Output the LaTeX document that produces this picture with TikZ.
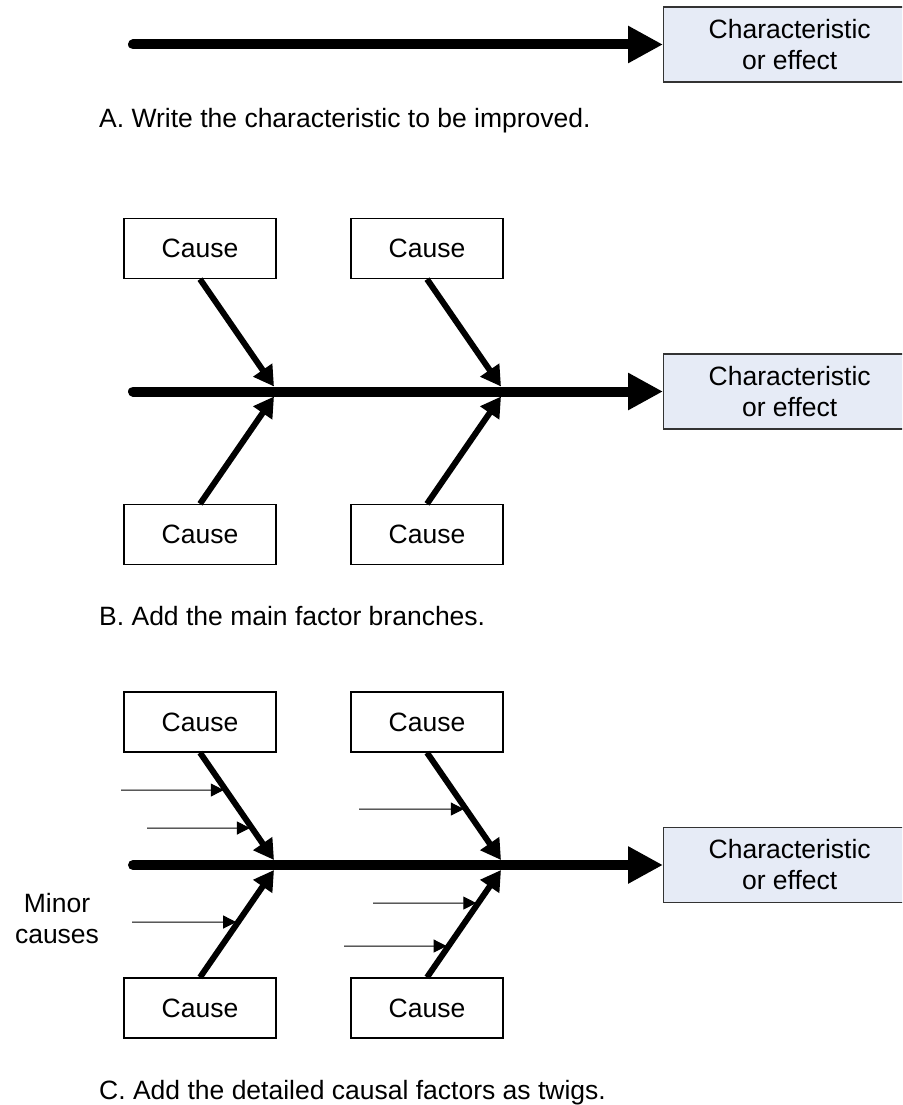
\documentclass[tikz,border=0pt]{standalone}
\usepackage{fontspec}
\setmainfont{Liberation Sans}
\usetikzlibrary{arrows.meta}
\definecolor{effectfill}{RGB}{230,235,246}
\begin{document}
\begin{tikzpicture}[x=1pt,y=-1pt,
  every node/.style={font=\fontsize{26.5}{31}\selectfont},
  causebox/.style={draw=black, line width=1.3pt, fill=white,
    minimum width=152pt, minimum height=60pt, inner sep=0pt},
  effectbox/.style={draw=black!80, line width=1.3pt, fill=effectfill,
    minimum width=252pt, minimum height=75pt, inner sep=0pt, align=center, anchor=west},
  spine/.style={line width=10pt, line cap=round, -{Triangle[length=35pt,width=35pt]}},
  bone/.style={line width=6pt, -{Triangle[length=20pt,width=22pt]}},
  twig/.style={line width=1pt, draw=black, -{Triangle[length=13pt,width=13pt]}, shorten >=2pt},
  caption/.style={anchor=base west, inner sep=0pt}
]
\clip (0,0) rectangle (902,1105);

% --- A: spine and effect only
\node[effectbox] (effA) at (663,44.5) {Characteristic\\or effect};
\coordinate (tailA) at (133,44.5);
\draw[spine] (tailA) -- (effA.west);
\node[caption] (capA) at (99,128) {A. Write the characteristic to be improved.};

% --- B and C: spine with four main cause branches
\foreach \s/\m in {B/391.5, C/865}{
  \node[effectbox] (eff\s) at (663,\m) {Characteristic\\or effect};
  \coordinate (tail\s) at (133,\m);
  \node[causebox] (tl\s) at (200,{\m-143}) {Cause};
  \node[causebox] (tr\s) at (427,{\m-143}) {Cause};
  \node[causebox] (bl\s) at (200,{\m+143}) {Cause};
  \node[causebox] (br\s) at (427,{\m+143}) {Cause};
  \coordinate (jtl\s) at (274,{\m-5});
  \coordinate (jbl\s) at (274,{\m+5});
  \coordinate (jtr\s) at (501,{\m-5});
  \coordinate (jbr\s) at (501,{\m+5});
  \draw[spine] (tail\s) -- (eff\s.west);
  \draw[bone] (tl\s.south) -- (jtl\s);
  \draw[bone] (bl\s.north) -- (jbl\s);
  \draw[bone] (tr\s.south) -- (jtr\s);
  \draw[bone] (br\s.north) -- (jbr\s);
}
\node[caption] (capB) at (99,625) {B. Add the main factor branches.};

% --- C: minor causes as twigs on the branches
\coordinate (w1) at (121,790);
\coordinate (w2) at (147,828);
\coordinate (w3) at (359,809);
\coordinate (w4) at (132,922);
\coordinate (w5) at (373,903);
\coordinate (w6) at (344,946);
\draw[twig] (w1) -- (intersection of tlC.south--jtlC and 0,790--900,790);
\draw[twig] (w2) -- (intersection of tlC.south--jtlC and 0,828--900,828);
\draw[twig] (w3) -- (intersection of trC.south--jtrC and 0,809--900,809);
\draw[twig] (w4) -- (intersection of blC.north--jblC and 0,922--900,922);
\draw[twig] (w5) -- (intersection of brC.north--jbrC and 0,903--900,903);
\draw[twig] (w6) -- (intersection of brC.north--jbrC and 0,946--900,946);
\node[align=center] (minor) at (57,918.4) {Minor\\causes};
\node[caption] (capC) at (99,1099) {C. Add the detailed causal factors as twigs.};
\end{tikzpicture}
\end{document}
